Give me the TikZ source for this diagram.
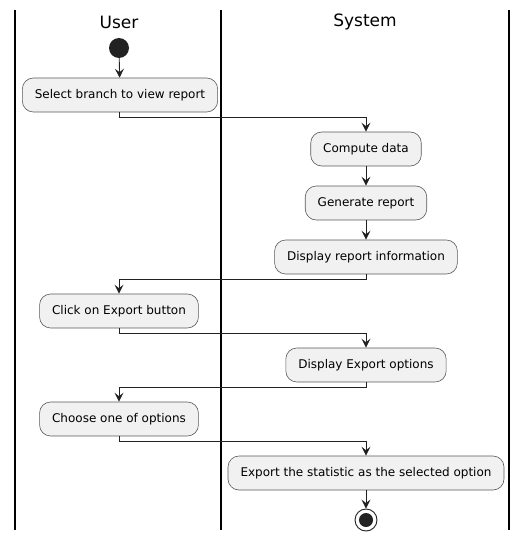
\documentclass[tikz,border=0pt]{standalone}
\usepackage{fontspec}
\setmainfont{DejaVu Sans}
\usetikzlibrary{arrows.meta}
\definecolor{boxfill}{HTML}{F1F1F1}
\definecolor{dark}{HTML}{222222}
\tikzset{
  act/.style={draw=dark!75, line width=0.6pt, fill=boxfill, rounded corners=11pt, minimum height=34pt, inner xsep=12.5pt, font=\fontsize{12}{14}\selectfont},
  flow/.style={draw=dark, line width=0.9pt, -{Stealth[length=9pt,width=9pt,inset=3.5pt]}},
  lane/.style={draw=black, line width=1.3pt},
  hdr/.style={font=\fontsize{17}{19}\selectfont}
}
\begin{document}
\begin{tikzpicture}[x=1pt,y=-1pt]
\useasboundingbox (0,0) rectangle (527,543);
\draw[lane] (15,10) -- (15,530);
\draw[lane] (221,10) -- (221,530);
\draw[lane] (509,10) -- (509,530);
\node[hdr] (hu) at (119,22) {User};
\node[hdr] (hs) at (365,22) {System};
\node[circle, fill=dark, minimum size=20pt, inner sep=0pt] (start) at (119,48) {};
\node[act] (a1) at (120,95) {Select branch to view report};
\node[act] (a2) at (366,149) {Compute data};
\node[act] (a3) at (366,203) {Generate report};
\node[act] (a4) at (366,257) {Display report information};
\node[act] (a5) at (119,311) {Click on Export button};
\node[act] (a6) at (366,365) {Display Export options};
\node[act] (a7) at (119,419) {Choose one of options};
\node[act] (a8) at (366,473) {Export the statistic as the selected option};
\node[circle, draw=dark, line width=0.9pt, fill=white, minimum size=22pt, inner sep=0pt] (stop) at (366,520) {};
\node[circle, fill=dark, minimum size=14pt, inner sep=0pt] (stopin) at (stop) {};
\draw[flow] (start) -- (a1);
\draw[flow] (a1.south -| start) -- ++(0,5) -| (a2.north);
\draw[flow] (a2) -- (a3);
\draw[flow] (a3) -- (a4);
\draw[flow] (a4.south) -- ++(0,5) -| (a5.north);
\draw[flow] (a5.south) -- ++(0,5) -| (a6.north);
\draw[flow] (a6.south) -- ++(0,5) -| (a7.north);
\draw[flow] (a7.south) -- ++(0,5) -| (a8.north);
\draw[flow] (a8) -- (stop);
\end{tikzpicture}
\end{document}
